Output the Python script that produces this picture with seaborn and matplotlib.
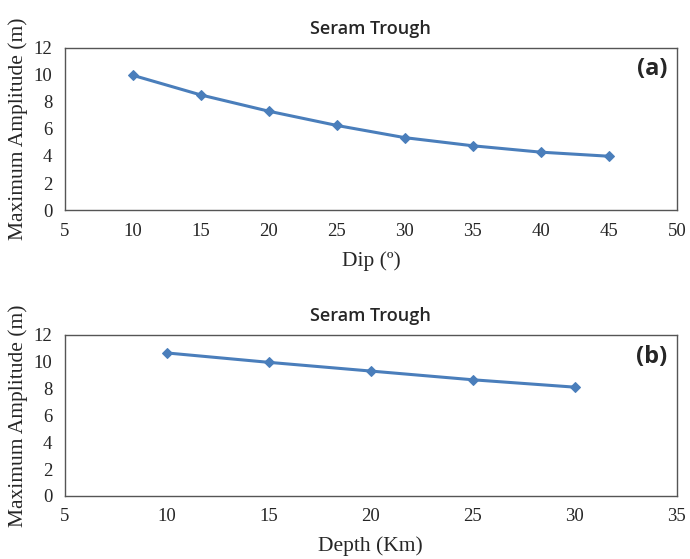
import matplotlib
matplotlib.use("Agg")
import matplotlib.pyplot as plt
import seaborn as sns
import pandas as pd

# data
dip = [10, 15, 20, 25, 30, 35, 40, 45]
amp_dip = [9.95, 8.5, 7.3, 6.25, 5.35, 4.75, 4.28, 3.98]

depth = [10, 15, 20, 25, 30]
amp_depth = [10.65, 9.95, 9.3, 8.65, 8.1]

sns.set_style("white")
plt.rcParams["font.family"] = ["Liberation Serif", "DejaVu Serif"]

LINE = "#4A7EBB"
SANS = ["Open Sans", "DejaVu Sans"]

fig = plt.figure(figsize=(6.9, 5.59), dpi=100)
ax_a = fig.add_axes([0.094, 0.624, 0.887, 0.291])
ax_b = fig.add_axes([0.094, 0.113, 0.887, 0.288])


def draw(ax, x, y, xlim, xticks, xlabel, tag):
    df = pd.DataFrame({"x": x, "y": y})
    sns.lineplot(data=df, x="x", y="y", ax=ax, color=LINE, linewidth=2.2,
                 marker="D", markersize=5.5, markeredgecolor=LINE)
    ax.set_xlim(*xlim)
    ax.set_ylim(0, 12)
    ax.set_xticks(xticks)
    ax.set_yticks(range(0, 13, 2))
    ax.tick_params(axis="both", direction="out", length=3, width=0.8,
                   labelsize=13.5, color="#444444", pad=6)
    for s in ax.spines.values():
        s.set_color("#555555")
        s.set_linewidth(1.0)
    ax.set_xlabel(xlabel, fontsize=15.5, labelpad=8)
    ax.set_ylabel("Maximum Amplitude (m)", fontsize=15.5, labelpad=4)
    ax.set_title("Seram Trough", family=SANS, fontsize=13, fontweight="semibold", pad=10)
    ax.text(0.985, 0.865, tag, transform=ax.transAxes, ha="right", va="center",
            family=SANS, fontsize=17, fontweight="bold")


draw(ax_a, dip, amp_dip, (5, 50), range(5, 51, 5), "Dip (\u00ba)", "(a)")
draw(ax_b, depth, amp_depth, (5, 35), range(5, 36, 5), "Depth (Km)", "(b)")

fig.savefig("out.png", dpi=100)
